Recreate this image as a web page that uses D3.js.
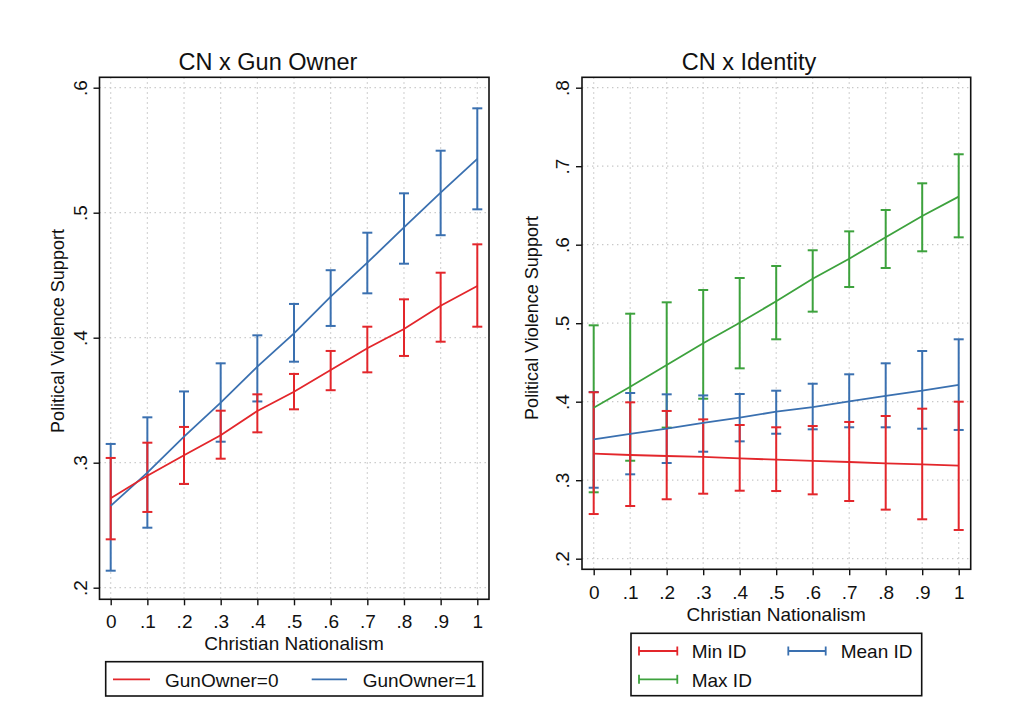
<!DOCTYPE html>
<html>
<head>
<meta charset="utf-8">
<script src="https://cdn.jsdelivr.net/npm/d3@7"></script>
<style>
  html, body { margin: 0; padding: 0; background: #ffffff; }
  svg { display: block; font-family: "Liberation Sans", Arial, Helvetica, sans-serif; }
</style>
</head>
<body>
<svg id="chart" width="1024" height="711"></svg>
<script>
// ---------------- DATA ----------------
const cnLevels = [0, 0.1, 0.2, 0.3, 0.4, 0.5, 0.6, 0.7, 0.8, 0.9, 1];

// Left panel: CN x Gun Owner
const gun0Est = [0.2715, 0.2896, 0.3059, 0.3219, 0.3414, 0.3568, 0.3742, 0.3915, 0.4070, 0.4256, 0.4414];
const gun0Lo  = [0.2387, 0.2606, 0.2830, 0.3032, 0.3243, 0.3427, 0.3580, 0.3723, 0.3854, 0.3968, 0.4088];
const gun0Hi  = [0.3038, 0.3160, 0.3286, 0.3416, 0.3547, 0.3710, 0.3894, 0.4088, 0.4307, 0.4520, 0.4747];

const gun1Est = [0.2654, 0.2920, 0.3208, 0.3480, 0.3768, 0.4035, 0.4328, 0.4600, 0.4883, 0.5160, 0.5430];
const gun1Lo  = [0.2136, 0.2480, 0.2830, 0.3168, 0.3490, 0.3808, 0.4094, 0.4355, 0.4592, 0.4820, 0.5027];
const gun1Hi  = [0.3150, 0.3363, 0.3570, 0.3795, 0.4019, 0.4270, 0.4540, 0.4840, 0.5155, 0.5496, 0.5835];

// Right panel: CN x Identity
const minIdEst = [0.3338, 0.3321, 0.3308, 0.3296, 0.3279, 0.3261, 0.3245, 0.3232, 0.3215, 0.3202, 0.3185];
const minIdLo  = [0.2569, 0.2671, 0.2757, 0.2828, 0.2866, 0.2862, 0.2820, 0.2735, 0.2625, 0.2502, 0.2366];
const minIdHi  = [0.4120, 0.3992, 0.3882, 0.3775, 0.3703, 0.3674, 0.3690, 0.3742, 0.3818, 0.3911, 0.4000];

const meanIdEst = [0.3521, 0.3589, 0.3656, 0.3729, 0.3796, 0.3873, 0.3932, 0.4005, 0.4073, 0.4140, 0.4213];
const meanIdLo  = [0.2904, 0.3075, 0.3219, 0.3363, 0.3495, 0.3592, 0.3648, 0.3674, 0.3674, 0.3656, 0.3640];
const meanIdHi  = [0.4124, 0.4111, 0.4094, 0.4080, 0.4098, 0.4140, 0.4229, 0.4349, 0.4489, 0.4646, 0.4795];

const maxIdEst = [0.3924, 0.4191, 0.4468, 0.4744, 0.5006, 0.5279, 0.5567, 0.5822, 0.6094, 0.6366, 0.6612];
const maxIdLo  = [0.2846, 0.3248, 0.3670, 0.4038, 0.4425, 0.4795, 0.5147, 0.5461, 0.5703, 0.5916, 0.6094];
const maxIdHi  = [0.4973, 0.5121, 0.5266, 0.5423, 0.5576, 0.5729, 0.5929, 0.6170, 0.6442, 0.6782, 0.7152];

const leftYTicks  = [0.2, 0.3, 0.4, 0.5, 0.6];
const rightYTicks = [0.2, 0.3, 0.4, 0.5, 0.6, 0.7, 0.8];

const leftTitle = "CN x Gun Owner";
const rightTitle = "CN x Identity";
const xTitle = "Christian Nationalism";
const yTitle = "Political Violence Support";

const leftSeriesNames = ["GunOwner=0", "GunOwner=1"];
const rightSeriesNames = ["Min ID", "Mean ID", "Max ID"];

// ---------------- STYLE ----------------
const RED = "#e3262b", BLUE = "#3a70b0", GREEN = "#3da23d";

const svg = d3.select("#chart");

function fmtX(d) { return d === 0 ? "0" : d === 1 ? "1" : d3.format(".1f")(d).replace(/^0/, ""); }
function fmtY(d) { return d3.format(".1f")(d).replace(/^0/, ""); }

function makeSeries(est, lo, hi) {
  return cnLevels.map((x, i) => ({ x, est: est[i], lo: lo[i], hi: hi[i] }));
}

function drawPanel(cfg) {
  const g = svg.append("g");
  const x = d3.scaleLinear().domain([0, 1]).range(cfg.xRange);
  const y = d3.scaleLinear().domain(cfg.yDomain).range(cfg.yRange);

  // grid
  g.append("g").selectAll("line.vg").data(cnLevels).join("line")
    .attr("x1", d => x(d)).attr("x2", d => x(d))
    .attr("y1", cfg.frame.y0).attr("y2", cfg.frame.y1)
    .attr("stroke", "#c8c8c8").attr("stroke-width", 1.2).attr("stroke-dasharray", "1.4,3.6");
  g.append("g").selectAll("line.hg").data(cfg.yTicks).join("line")
    .attr("x1", cfg.frame.x0).attr("x2", cfg.frame.x1)
    .attr("y1", d => y(d)).attr("y2", d => y(d))
    .attr("stroke", "#c8c8c8").attr("stroke-width", 1.2).attr("stroke-dasharray", "1.4,3.6");

  // series
  const line = d3.line().x(d => x(d.x)).y(d => y(d.est));
  cfg.series.forEach(s => {
    const sg = g.append("g");
    sg.selectAll("line.bar").data(s.data).join("line")
      .attr("x1", d => x(d.x)).attr("x2", d => x(d.x))
      .attr("y1", d => y(d.lo)).attr("y2", d => y(d.hi))
      .attr("stroke", s.color).attr("stroke-width", 2);
    sg.selectAll("line.caplo").data(s.data).join("line")
      .attr("x1", d => x(d.x) - 5).attr("x2", d => x(d.x) + 5)
      .attr("y1", d => y(d.lo)).attr("y2", d => y(d.lo))
      .attr("stroke", s.color).attr("stroke-width", 2);
    sg.selectAll("line.caphi").data(s.data).join("line")
      .attr("x1", d => x(d.x) - 5).attr("x2", d => x(d.x) + 5)
      .attr("y1", d => y(d.hi)).attr("y2", d => y(d.hi))
      .attr("stroke", s.color).attr("stroke-width", 2);
  });
  cfg.series.forEach(s => {
    g.append("path").datum(s.data).attr("d", line)
      .attr("fill", "none").attr("stroke", s.color).attr("stroke-width", 1.8);
  });

  // frame
  g.append("rect").attr("x", cfg.frame.x0).attr("y", cfg.frame.y0)
    .attr("width", cfg.frame.x1 - cfg.frame.x0).attr("height", cfg.frame.y1 - cfg.frame.y0)
    .attr("fill", "none").attr("stroke", "#111").attr("stroke-width", 1.6);

  // axes
  const ax = g.append("g").attr("transform", `translate(0,${cfg.frame.y1})`)
    .call(d3.axisBottom(x).tickValues(cnLevels).tickFormat(fmtX).tickSize(6));
  ax.select(".domain").remove();
  ax.selectAll(".tick line").attr("stroke", "#111").attr("stroke-width", 1.4);
  ax.selectAll(".tick text").attr("y", cfg.xLabelOffset).attr("dy", 0)
    .attr("font-size", 19).attr("fill", "#111").attr("font-family", null);

  const ay = g.append("g").attr("transform", `translate(${cfg.frame.x0},0)`)
    .call(d3.axisLeft(y).tickValues(cfg.yTicks).tickFormat(fmtY).tickSize(6));
  ay.select(".domain").remove();
  ay.selectAll(".tick line").attr("stroke", "#111").attr("stroke-width", 1.4);
  ay.selectAll(".tick text")
    .attr("x", 0).attr("dy", 0).attr("text-anchor", "middle")
    .attr("transform", "translate(-13,0) rotate(-90)")
    .attr("font-size", 19).attr("fill", "#111").attr("font-family", null);

  // titles
  g.append("text").attr("x", cfg.titleX).attr("y", 69.5).attr("text-anchor", "middle")
    .attr("font-size", 23.5).attr("fill", "#111").text(cfg.title);
  g.append("text").attr("x", (cfg.xRange[0] + cfg.xRange[1]) / 2).attr("y", cfg.xTitleY)
    .attr("text-anchor", "middle").attr("font-size", 19).attr("fill", "#111").text(xTitle);
  g.append("text").attr("transform", `translate(${cfg.yTitleX},${cfg.yTitleY}) rotate(-90)`)
    .attr("text-anchor", "middle").attr("font-size", 18).attr("fill", "#111").text(yTitle);

  return g;
}

// Left panel
drawPanel({
  frame: { x0: 99.5, x1: 489, y0: 77.3, y1: 599.3 },
  xRange: [110.7, 477.3],
  yDomain: [0.2, 0.6], yRange: [587.7, 87.7],
  yTicks: leftYTicks,
  xLabelOffset: 28.7,
  title: leftTitle, titleX: 268,
  xTitleY: 649.5, yTitleX: 64, yTitleY: 331,
  series: [
    { color: BLUE, data: makeSeries(gun1Est, gun1Lo, gun1Hi) },
    { color: RED, data: makeSeries(gun0Est, gun0Lo, gun0Hi) }
  ]
});

// Right panel
drawPanel({
  frame: { x0: 582, x1: 970.7, y0: 77.3, y1: 569.3 },
  xRange: [593.7, 958.7],
  yDomain: [0.2, 0.8], yRange: [558.7, 87.7],
  yTicks: rightYTicks,
  xLabelOffset: 30.2,
  title: rightTitle, titleX: 749,
  xTitleY: 621.2, yTitleX: 538, yTitleY: 318,
  series: [
    { color: GREEN, data: makeSeries(maxIdEst, maxIdLo, maxIdHi) },
    { color: BLUE, data: makeSeries(meanIdEst, meanIdLo, meanIdHi) },
    { color: RED, data: makeSeries(minIdEst, minIdLo, minIdHi) }
  ]
});

// ---------------- LEGENDS ----------------
// Left legend
const lg = svg.append("g");
lg.append("rect").attr("x", 105.7).attr("y", 661.7).attr("width", 377).attr("height", 34.3)
  .attr("fill", "#fff").attr("stroke", "#111").attr("stroke-width", 1.6);
const leftKeys = [
  { name: leftSeriesNames[0], color: RED, x0: 113, x1: 150, tx: 165 },
  { name: leftSeriesNames[1], color: BLUE, x0: 311.7, x1: 347, tx: 362.7 }
];
leftKeys.forEach(k => {
  lg.append("line").attr("x1", k.x0).attr("x2", k.x1).attr("y1", 679.3).attr("y2", 679.3)
    .attr("stroke", k.color).attr("stroke-width", 1.8);
  lg.append("text").attr("x", k.tx).attr("y", 686.5).attr("font-size", 19).attr("fill", "#111").text(k.name);
});

// Right legend
const rg = svg.append("g");
rg.append("rect").attr("x", 631).attr("y", 633.3).attr("width", 290.7).attr("height", 62.4)
  .attr("fill", "#fff").attr("stroke", "#111").attr("stroke-width", 1.6);
const rightKeys = [
  { name: rightSeriesNames[0], color: RED, x0: 639, x1: 677.3, tx: 691.7, y: 651, ty: 658.3 },
  { name: rightSeriesNames[1], color: BLUE, x0: 788.3, x1: 825.7, tx: 840.7, y: 651, ty: 658.3 },
  { name: rightSeriesNames[2], color: GREEN, x0: 639, x1: 677.3, tx: 691.7, y: 679.3, ty: 686.7 }
];
rightKeys.forEach(k => {
  rg.append("line").attr("x1", k.x0).attr("x2", k.x1).attr("y1", k.y).attr("y2", k.y)
    .attr("stroke", k.color).attr("stroke-width", 1.8);
  [k.x0, k.x1].forEach(cx => {
    rg.append("line").attr("x1", cx).attr("x2", cx).attr("y1", k.y - 4.5).attr("y2", k.y + 4.5)
      .attr("stroke", k.color).attr("stroke-width", 1.8);
  });
  rg.append("text").attr("x", k.tx).attr("y", k.ty).attr("font-size", 19).attr("fill", "#111").text(k.name);
});
</script>
</body>
</html>
